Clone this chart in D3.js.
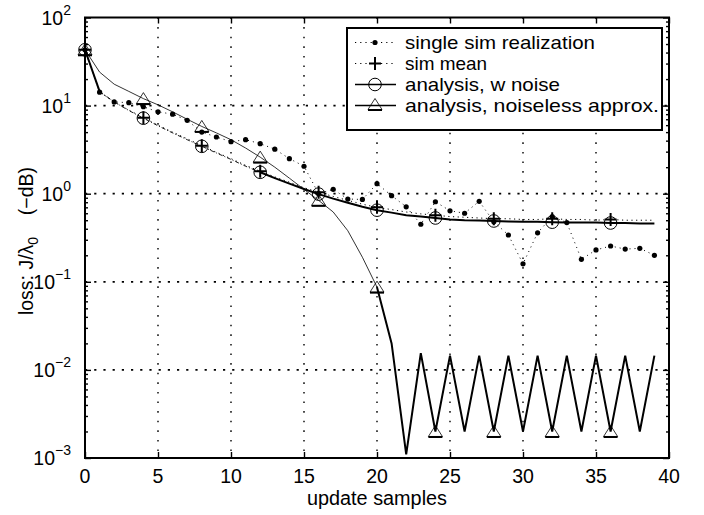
<!DOCTYPE html>
<html>
<head>
<meta charset="utf-8">
<script src="https://cdn.jsdelivr.net/npm/d3@7"></script>
<style>
  body { margin: 0; background: #fff; }
  text { font-family: "Liberation Sans", Arial, sans-serif; fill: #000; }
</style>
</head>
<body>
<div class="chart"></div>
<script>
var svgWidth = 704;
var svgHeight = 515;

// data
var samples = [0, 1, 2, 3, 4, 5, 6, 7, 8, 9, 10, 11, 12, 13, 14, 15, 16, 17, 18, 19,
  20, 21, 22, 23, 24, 25, 26, 27, 28, 29, 30, 31, 32, 33, 34, 35, 36, 37, 38, 39];
var singleSim = [43, 14.2, 11, 10.8, 9.7, 8.5, 8.0, 6.8, 5.0, 4.4, 3.9, 4.1, 3.7, 3.2, 2.5, 2.05,
  1.0, 1.12, 0.87, 0.86, 1.3, 0.95, 0.71, 0.45, 0.81, 0.64, 0.6, 0.82, 0.48, 0.34,
  0.16, 0.36, 0.55, 0.47, 0.18, 0.23, 0.255, 0.235, 0.24, 0.2];
var simMean = [43, 14.3, 11.0, 8.9, 7.3, 6.0, 5.0, 4.2, 3.5, 2.95, 2.5, 2.1, 1.8, 1.55, 1.35, 1.17,
  1.04, 0.93, 0.84, 0.76, 0.7, 0.66, 0.62, 0.59, 0.57, 0.55, 0.54, 0.53, 0.52, 0.52,
  0.51, 0.51, 0.52, 0.51, 0.51, 0.5, 0.51, 0.5, 0.5, 0.5];
var analysisNoise = [43, 14.5, 11, 8.8, 7.2, 5.9, 4.9, 4.1, 3.45, 2.9, 2.45, 2.05, 1.75, 1.5, 1.3, 1.13,
  0.99, 0.88, 0.79, 0.71, 0.65, 0.61, 0.57, 0.55, 0.53, 0.51, 0.5, 0.495, 0.49, 0.485,
  0.48, 0.48, 0.475, 0.47, 0.47, 0.47, 0.465, 0.465, 0.46, 0.46];
var noiseless = [43, 24, 17.5, 14.5, 12, 10.2, 8.5, 7, 5.8, 4.9, 4.1, 3.3, 2.6, 2.0, 1.5, 1.12,
  0.84, 0.62, 0.38, 0.19, 0.087, 0.02, 0.0011, 0.0155, 0.002, 0.0145, 0.002, 0.0145, 0.002, 0.0145,
  0.002, 0.0145, 0.002, 0.0145, 0.002, 0.0145, 0.002, 0.0145, 0.002, 0.0145];
var markerSamples = [0, 4, 8, 12, 16, 20, 24, 28, 32, 36];

var xTicks = [0, 5, 10, 15, 20, 25, 30, 35, 40];
var yExponents = [-3, -2, -1, 0, 1, 2];
var legendLabels = ["single sim realization", "sim mean", "analysis, w noise", "analysis, noiseless approx."];
var legendWidths = [190, 82, 155, 254];

var plot = { left: 85, right: 669, top: 17.5, bottom: 458 };

var svg = d3.select(".chart")
  .append("svg")
  .attr("width", svgWidth)
  .attr("height", svgHeight);

svg.append("rect").attr("width", svgWidth).attr("height", svgHeight).attr("fill", "#fff");

var xScale = d3.scaleLinear().domain([0, 40]).range([plot.left, plot.right]);
var yScale = d3.scaleLog().domain([1e-3, 1e2]).range([plot.bottom, plot.top]);

var decades = yExponents.map(e => Math.pow(10, e));
var minor = [];
yExponents.slice(0, -1).forEach(function(e) {
  for (var k = 2; k < 10; k++) minor.push(k * Math.pow(10, e));
});

// grid
var grid = svg.append("g");
xTicks.slice(1, -1).forEach(function(t) {
  grid.append("line")
    .attr("x1", xScale(t)).attr("x2", xScale(t))
    .attr("y1", plot.top).attr("y2", plot.bottom)
    .attr("stroke", "#000").attr("stroke-width", 1.4)
    .attr("stroke-dasharray", "1.6,8");
});
decades.slice(1, -1).forEach(function(v) {
  grid.append("line")
    .attr("x1", plot.left).attr("x2", plot.right)
    .attr("y1", yScale(v)).attr("y2", yScale(v))
    .attr("stroke", "#000").attr("stroke-width", 1.7)
    .attr("stroke-dasharray", "2.2,7");
});

// axes with inward ticks
svg.append("g").attr("transform", `translate(0,${plot.bottom})`)
  .call(d3.axisBottom(xScale).tickValues(xTicks).tickSize(-6).tickFormat(""));
svg.append("g").attr("transform", `translate(0,${plot.top})`)
  .call(d3.axisTop(xScale).tickValues(xTicks).tickSize(-6).tickFormat(""));
svg.append("g").attr("transform", `translate(${plot.left},0)`)
  .call(d3.axisLeft(yScale).tickValues(decades).tickSize(-6).tickFormat(""));
svg.append("g").attr("transform", `translate(${plot.right},0)`)
  .call(d3.axisRight(yScale).tickValues(decades).tickSize(-6).tickFormat(""));
svg.append("g").attr("transform", `translate(${plot.left},0)`)
  .call(d3.axisLeft(yScale).tickValues(minor).tickSize(-3).tickFormat(""));
svg.append("g").attr("transform", `translate(${plot.right},0)`)
  .call(d3.axisRight(yScale).tickValues(minor).tickSize(-3).tickFormat(""));
svg.selectAll(".domain").remove();
svg.selectAll(".tick line").attr("stroke", "#000").attr("stroke-width", 1.4);

svg.append("rect")
  .attr("x", plot.left).attr("y", plot.top)
  .attr("width", plot.right - plot.left).attr("height", plot.bottom - plot.top)
  .attr("fill", "none").attr("stroke", "#000").attr("stroke-width", 2);

// tick labels
svg.selectAll(".xlab").data(xTicks).enter().append("text")
  .attr("x", d => xScale(d)).attr("y", 483)
  .attr("text-anchor", "middle").attr("font-size", 19.5)
  .text(d => d);

yExponents.forEach(function(e) {
  var t = svg.append("text")
    .attr("x", 71).attr("y", yScale(Math.pow(10, e)) + 7)
    .attr("text-anchor", "end").attr("font-size", 19.5);
  t.append("tspan").text("10");
  t.append("tspan").attr("dy", -10).attr("font-size", 14).text(e < 0 ? "\u2212" + (-e) : e);
});

// axis titles
svg.append("text")
  .attr("x", 377).attr("y", 505)
  .attr("text-anchor", "middle").attr("font-size", 19.5)
  .attr("textLength", 140).attr("lengthAdjust", "spacingAndGlyphs")
  .text("update samples");

var ylab = svg.append("text")
  .attr("transform", "translate(33,241) rotate(-90)")
  .attr("text-anchor", "middle").attr("font-size", 19.5)
  .style("white-space", "pre");
ylab.append("tspan").text("loss: J/\u03bb");
ylab.append("tspan").attr("dy", 5).attr("font-size", 14).text("0");
ylab.append("tspan").attr("dy", -5).text("    (\u2212dB)");

// series
var pts = arr => samples.map((s, i) => [s, arr[i]]);
var line = d3.line().x(d => xScale(d[0])).y(d => yScale(d[1]));

var single = pts(singleSim);
var mean = pts(simMean);
var anal = pts(analysisNoise);
var noisy = pts(noiseless);

svg.append("path").attr("d", line(single))
  .attr("fill", "none").attr("stroke", "#000").attr("stroke-width", 1)
  .attr("stroke-dasharray", "1,4");
svg.selectAll(".sdot").data(single).enter().append("circle")
  .attr("cx", d => xScale(d[0])).attr("cy", d => yScale(d[1]))
  .attr("r", 2.6).attr("fill", "#000");

svg.append("path").attr("d", line(mean))
  .attr("fill", "none").attr("stroke", "#000").attr("stroke-width", 1)
  .attr("stroke-dasharray", "1.2,3.5");

// noiseless: thin while decaying, heavy once it oscillates
svg.append("path").attr("d", line(noisy.slice(0, 21)))
  .attr("fill", "none").attr("stroke", "#000").attr("stroke-width", 0.8);
svg.append("path").attr("d", line(noisy.slice(20)))
  .attr("fill", "none").attr("stroke", "#000").attr("stroke-width", 2)
  .attr("stroke-linejoin", "miter");

// analysis w noise
svg.append("path").attr("d", line(anal.slice(1, 13)))
  .attr("fill", "none").attr("stroke", "#000").attr("stroke-width", 0.9)
  .attr("stroke-dasharray", "4,2,1,2");
svg.append("path").attr("d", line(anal.slice(0, 2)))
  .attr("fill", "none").attr("stroke", "#000").attr("stroke-width", 2);
svg.append("path").attr("d", line(anal.slice(12)))
  .attr("fill", "none").attr("stroke", "#000").attr("stroke-width", 2);

// markers
function drawCircle(g, x, y) {
  g.append("circle").attr("cx", x).attr("cy", y).attr("r", 6.3)
    .attr("fill", "none").attr("stroke", "#000").attr("stroke-width", 1);
}
function drawPlus(g, x, y) {
  g.append("path").attr("d", `M${x - 6},${y}H${x + 6}M${x},${y - 6.5}V${y + 6.5}`)
    .attr("stroke", "#000").attr("stroke-width", 2);
}
function drawTriangle(g, x, y) {
  g.append("path").attr("d", `M${x - 7},${y + 5}L${x},${y - 6}L${x + 7},${y + 5}Z`)
    .attr("fill", "none").attr("stroke", "#000").attr("stroke-width", 0.8);
  g.append("path").attr("d", `M${x - 7},${y + 5.5}H${x + 7}`)
    .attr("stroke", "#000").attr("stroke-width", 2);
}

var mk = svg.append("g");
markerSamples.forEach(function(s) {
  var i = samples.indexOf(s);
  drawTriangle(mk, xScale(s), yScale(noiseless[i]));
  drawCircle(mk, xScale(s), yScale(analysisNoise[i]));
  drawPlus(mk, xScale(s), yScale(simMean[i]));
});

// legend
var lg = svg.append("g");
lg.append("rect").attr("x", 347).attr("y", 28).attr("width", 315).attr("height", 102)
  .attr("fill", "#fff").attr("stroke", "#000").attr("stroke-width", 2);

legendLabels.forEach(function(label, i) {
  var yy = 42.5 + i * 21;
  var seg = lg.append("line").attr("x1", 355).attr("x2", 396)
    .attr("y1", yy).attr("y2", yy).attr("stroke", "#000");
  if (i === 0) {
    seg.attr("stroke-width", 1.2).attr("stroke-dasharray", "1.2,4");
    lg.append("circle").attr("cx", 375).attr("cy", yy).attr("r", 2.6).attr("fill", "#000");
  } else if (i === 1) {
    seg.attr("stroke-width", 1.2).attr("stroke-dasharray", "1.2,4");
    drawPlus(lg, 375, yy);
  } else if (i === 2) {
    seg.attr("stroke-width", 1.5);
    drawCircle(lg, 375, yy);
  } else {
    seg.attr("stroke-width", 1.5);
    drawTriangle(lg, 375, yy - 1);
  }
  lg.append("text").attr("x", 405).attr("y", yy + 6.5)
    .attr("font-size", 18.6)
    .attr("textLength", legendWidths[i]).attr("lengthAdjust", "spacingAndGlyphs")
    .text(label);
});
</script>
</body>
</html>
